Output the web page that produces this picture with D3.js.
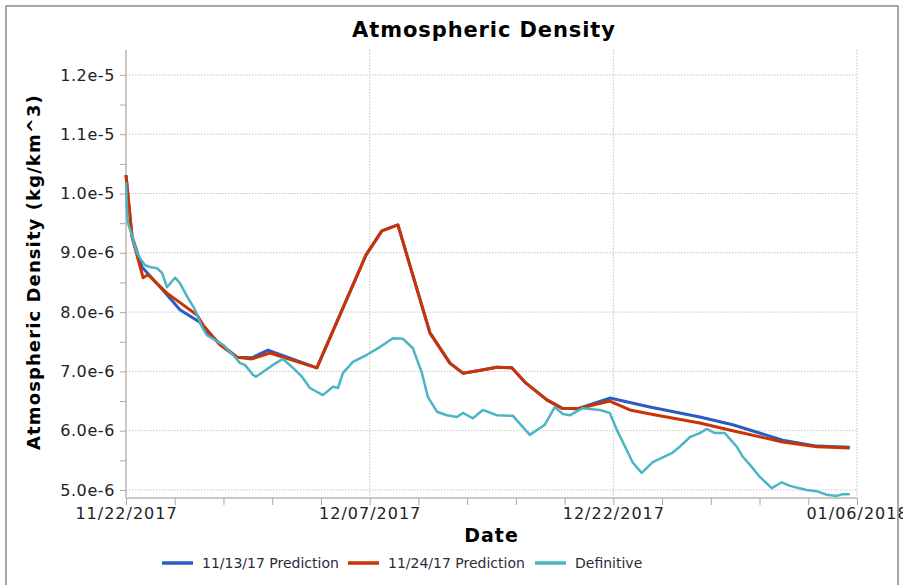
<!DOCTYPE html>
<html>
<head>
<meta charset="utf-8">
<script src="https://cdn.jsdelivr.net/npm/d3@7"></script>
<style>
  body { margin: 0; background: #fff; }
  svg { display: block; font-family: "DejaVu Sans", Verdana, sans-serif; }
  .axis .domain { stroke: #c8c8c8; stroke-width: 2; }
  .axis .tick line { stroke: #a8a8a8; }
  .axis text { fill: #222; font-family: "DejaVu Sans", Verdana, sans-serif; }
  .grid line { stroke: #c4c4c4; stroke-dasharray: 1.5 1.5; }
</style>
</head>
<body>
<svg id="chart"></svg>
<script>
// days after 11/22/2017, density in 1e-6 kg/km^3
const seriesNames = ["11/13/17 Prediction", "11/24/17 Prediction", "Definitive"];
const seriesColors = ["#2a5cc2", "#cc3300", "#4bb5c4"];

const pred1113Days = [0, 0.37, 0.98, 2.28, 3.32, 4.55, 4.98, 6.83, 7.75, 8.74, 11.75, 14.77, 15.75, 16.74, 18.71, 19.94, 20.74, 21.66, 22.83, 23.75, 24.55, 25.91, 26.83, 27.82, 29.78, 32.25, 35.32, 37.35, 40.43, 42.52, 44.55];
const pred1113Vals = [10.31, 9.28, 8.76, 8.37, 8.04, 7.83, 7.65, 7.24, 7.23, 7.36, 7.06, 8.96, 9.37, 9.47, 7.65, 7.14, 6.97, 7.01, 7.07, 7.06, 6.82, 6.52, 6.38, 6.37, 6.55, 6.40, 6.23, 6.10, 5.84, 5.74, 5.72];

const pred1124Days = [0, 0.37, 1.05, 1.35, 2.52, 4.37, 4.75, 5.78, 6.83, 7.75, 8.86, 11.75, 14.77, 15.75, 16.74, 18.71, 19.94, 20.74, 21.66, 22.83, 23.75, 24.55, 25.91, 26.83, 27.82, 29.78, 31.02, 32.68, 35.32, 37.35, 40.43, 42.52, 44.55];
const pred1124Vals = [10.31, 9.27, 8.58, 8.63, 8.32, 7.95, 7.78, 7.45, 7.24, 7.21, 7.31, 7.06, 8.96, 9.37, 9.47, 7.65, 7.14, 6.97, 7.01, 7.07, 7.06, 6.82, 6.52, 6.38, 6.37, 6.50, 6.35, 6.26, 6.13, 6.00, 5.81, 5.73, 5.71];

const defDays = [0, 0.06, 0.12, 0.25, 0.43, 0.68, 0.86, 1.17, 1.48, 1.91, 2.22, 2.52, 3.02, 3.32, 3.75, 4.25, 4.68, 4.98, 5.48, 5.97, 6.58, 7.02, 7.32, 7.82, 8.0, 8.43, 9.05, 9.66, 10.28, 10.83, 11.32, 12.12, 12.74, 13.05, 13.35, 13.97, 14.83, 15.63, 16.43, 17.05, 17.66, 18.22, 18.58, 19.14, 19.75, 20.37, 20.74, 21.35, 21.97, 22.83, 23.82, 24.43, 24.86, 25.78, 26.4, 26.89, 27.32, 28.12, 29.17, 29.78, 30.22, 30.83, 31.2, 31.75, 32.43, 32.98, 33.6, 34.09, 34.71, 35.32, 35.75, 36.25, 36.86, 37.6, 37.97, 38.52, 39.02, 39.75, 40.37, 40.86, 41.91, 42.52, 43.14, 43.75, 44.12, 44.55];
const defVals = [10.19, 9.72, 9.5, 9.39, 9.22, 9.0, 8.91, 8.79, 8.76, 8.74, 8.66, 8.42, 8.58, 8.49, 8.27, 8.04, 7.75, 7.61, 7.53, 7.45, 7.28, 7.14, 7.11, 6.94, 6.91, 6.99, 7.11, 7.21, 7.06, 6.91, 6.72, 6.6, 6.74, 6.72, 6.97, 7.16, 7.28, 7.41, 7.56, 7.55, 7.39, 6.97, 6.57, 6.32, 6.26, 6.23, 6.3, 6.21, 6.35, 6.26, 6.25, 6.06, 5.93, 6.1, 6.4, 6.28, 6.26, 6.38, 6.35, 6.3, 6.01, 5.67, 5.46, 5.29, 5.47, 5.54, 5.62, 5.73, 5.89, 5.96, 6.03, 5.96, 5.96, 5.73, 5.56, 5.39, 5.22, 5.03, 5.13, 5.07, 5.0, 4.98, 4.92, 4.9, 4.93, 4.93];

const xTickDays = d3.range(0, 46, 3);
const xLabelDays = [0, 15, 30, 45];
const yTicks = d3.range(5, 12.01, 0.5);

const W = 903, H = 585;
const margin = { top: 50, right: 46, bottom: 87, left: 126 };
const width = W - margin.left - margin.right;
const height = H - margin.top - margin.bottom;

const start = Date.UTC(2017, 10, 22);
const toDate = d => new Date(start + d * 864e5);

const svg = d3.select("#chart").attr("width", W).attr("height", H);

// outer frame
svg.append("rect")
  .attr("x", 6).attr("y", 6).attr("width", 892).attr("height", 590)
  .attr("fill", "none").attr("stroke", "#8a8a8a").attr("stroke-width", 1.5);

svg.append("text")
  .attr("x", 484).attr("y", 37)
  .attr("text-anchor", "middle")
  .style("font-size", "21px").style("font-weight", "bold")
  .style("letter-spacing", "0.9px")
  .text("Atmospheric Density");

const g = svg.append("g").attr("transform", `translate(${margin.left},${margin.top})`);

const x = d3.scaleUtc().domain([toDate(0), toDate(45)]).range([0, width]);
const y = d3.scaleLinear().domain([4.865, 12.42]).range([height, 0]);

// grid
g.append("g").attr("class", "grid")
  .selectAll("line").data(yTicks.filter(v => v % 1 === 0)).join("line")
  .attr("x1", 0).attr("x2", width)
  .attr("y1", d => y(d)).attr("y2", d => y(d));
g.append("g").attr("class", "grid")
  .selectAll("line").data(xLabelDays.slice(1)).join("line")
  .attr("x1", d => x(toDate(d))).attr("x2", d => x(toDate(d)))
  .attr("y1", 0).attr("y2", height);

// axes
const yAxis = g.append("g").attr("class", "axis")
  .call(d3.axisLeft(y).tickValues(yTicks).tickSize(6).tickPadding(5)
    .tickFormat(d => d % 1 === 0 ? (d * 1e-6).toExponential(1) : ""));
yAxis.selectAll("text").style("font-size", "16px").style("letter-spacing", "0.6px");

const xAxis = g.append("g").attr("class", "axis")
  .attr("transform", `translate(0,${height})`)
  .call(d3.axisBottom(x).tickValues(xTickDays.map(toDate)).tickSize(7).tickPadding(3)
    .tickFormat((d, i) => xLabelDays.includes(xTickDays[i]) ? d3.utcFormat("%m/%d/%Y")(d) : ""));
xAxis.selectAll("text").style("font-size", "16px").style("letter-spacing", "1px");
xAxis.select(".domain").attr("d", `M0,0H${width}`);
yAxis.select(".domain").attr("d", `M0,0V${height}`);

g.append("text")
  .attr("x", width / 2).attr("y", 542 - margin.top)
  .attr("text-anchor", "middle")
  .style("font-size", "19px").style("font-weight", "bold").style("letter-spacing", "1px")
  .text("Date");

g.append("text")
  .attr("transform", "rotate(-90)")
  .attr("x", -(272 - margin.top)).attr("y", 40 - margin.left)
  .attr("text-anchor", "middle")
  .style("font-size", "18px").style("font-weight", "bold").style("letter-spacing", "1.1px")
  .text("Atmospheric Density (kg/km^3)");

// lines
const line = d3.line().x(d => x(toDate(d[0]))).y(d => y(d[1]));
const series = [
  d3.zip(pred1113Days, pred1113Vals),
  d3.zip(pred1124Days, pred1124Vals),
  d3.zip(defDays, defVals)
];
series.forEach((s, i) => {
  g.append("path")
    .datum(s)
    .attr("fill", "none")
    .attr("stroke", seriesColors[i])
    .attr("stroke-width", i === 2 ? 2.5 : 3)
    .attr("stroke-linejoin", "round")
    .attr("d", line);
});

// legend
const legendX = [162, 348, 535];
const legend = svg.append("g");
seriesNames.forEach((name, i) => {
  legend.append("line")
    .attr("x1", legendX[i]).attr("x2", legendX[i] + 31)
    .attr("y1", 563).attr("y2", 563)
    .attr("stroke", seriesColors[i]).attr("stroke-width", 3.5);
  legend.append("text")
    .attr("x", legendX[i] + 40).attr("y", 568)
    .style("font-size", "14px").style("fill", "#2b2b3a")
    .text(name);
});
</script>
</body>
</html>
